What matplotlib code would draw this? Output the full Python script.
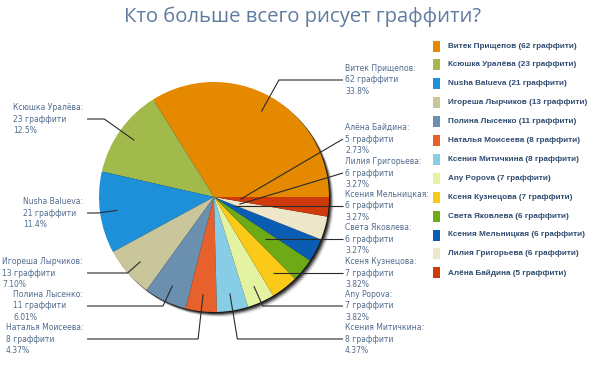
import numpy as np
import matplotlib.pyplot as plt
from matplotlib.patches import Circle, Rectangle

names = ['Витек Прищепов', 'Ксюшка Уралёва', 'Nusha Balueva', 'Игореша Лырчиков',
         'Полина Лысенко', 'Наталья Моисеева', 'Ксения Митичкина', 'Any Popova',
         'Ксеня Кузнецова', 'Света Яковлева', 'Ксения Мельницкая', 'Лилия Григорьева',
         'Алёна Байдина']
counts = [62, 23, 21, 13, 11, 8, 8, 7, 7, 6, 6, 6, 5]
colors = ['#E58A00', '#A1BA4B', '#1E8FD9', '#C9C69B', '#6B8FAE', '#E8602C',
          '#88CDE6', '#E4F3A2', '#FBC918', '#6DAA16', '#0B5DB4', '#EDE6C9',
          '#CF3A0B']

# label layout (pixel rows), side of the pie
label_side = ['R', 'L', 'L', 'L', 'L', 'L', 'R', 'R', 'R', 'R', 'R', 'R', 'R']
label_row = [80, 119, 213, 273, 306, 339, 339, 306, 273, 239, 206, 173, 139]

W, H = 604, 378
cx, cy, R = 214, H - 197, 115

total = sum(counts)


def pct_text(v):
    p = v / total * 100
    if p >= 10:
        return f"{np.floor(p * 10) / 10:.1f}%"
    return f"{np.floor(p * 100) / 100:.2f}%"


fig = plt.figure(figsize=(W / 100, H / 100), dpi=100)
ax = fig.add_axes([0, 0, 1, 1])

# soft shadow under the pie
for off, a in [(1.0, 0.6), (2.0, 0.5), (3.0, 0.35), (4.0, 0.18), (5.0, 0.08)]:
    ax.add_patch(Circle((cx + off, cy - off), R, color='black', alpha=a, lw=0, zorder=0))

wedges, _ = ax.pie(counts, colors=colors, startangle=0, counterclock=True,
                   center=(cx, cy), radius=R, wedgeprops=dict(lw=0))
for w in wedges:
    w.set_zorder(1)

ax.set_xlim(0, W)
ax.set_ylim(0, H)
ax.set_aspect('equal')
ax.axis('off')

txt_col = '#506B8C'
line_col = '#2a2a2a'
for w, name, v, side, row in zip(wedges, names, counts, label_side, label_row):
    th = np.radians((w.theta1 + w.theta2) / 2)
    ly = H - row
    dy = ly - cy
    x_end = 343 if side == 'R' else 87
    s = np.sin(th)
    rc = dy / s if abs(s) > 1e-6 else -1
    if rc <= 0:
        ax_, ay_ = cx + 0.23 * R * np.cos(th), cy + 0.23 * R * np.sin(th)
        xs, ys = [ax_, x_end], [ay_, ly]
    elif rc <= 0.85 * R:
        rr = max(rc, 0.2 * R)
        xs, ys = [cx + rr * np.cos(th), x_end], [ly, ly]
    else:
        ax_, ay_ = cx + 0.85 * R * np.cos(th), cy + 0.85 * R * np.sin(th)
        kx = cx + rc * np.cos(th)
        if (side == 'R' and kx < x_end) or (side == 'L' and kx > x_end):
            xs, ys = [ax_, kx, x_end], [ay_, ly, ly]
        else:
            xs, ys = [ax_, x_end], [ay_, ly]
    ax.plot(xs, ys, color=line_col, lw=0.8, zorder=3, solid_capstyle='butt')

    label = f"{name}:\n{v} граффити\n{pct_text(v)}"
    if side == 'R':
        ax.text(345, ly, label, ha='left', va='center', fontsize=5.5, color=txt_col,
                linespacing=1.4, family='DejaVu Sans')
    else:
        ax.text(83, ly, label, ha='right', va='center', multialignment='left',
                fontsize=5.5, color=txt_col, linespacing=1.4, family='DejaVu Sans')

# legend
for i, (name, v, c) in enumerate(zip(names, counts, colors)):
    ry = H - (46 + i * 18.9)
    ax.add_patch(Rectangle((433, ry - 5.5), 7, 11, color=c, lw=0))
    ax.text(448, ry, f"{name} ({v} граффити)", ha='left', va='center',
            fontsize=5.9, fontweight='bold', color='#2F4B70', family='Liberation Sans')

ax.text(302, H - 17, 'Кто больше всего рисует граффити?', ha='center', va='center',
        fontsize=14.6, color='#5F7B9F', family='Open Sans')

fig.savefig('out.png', dpi=100, facecolor='white')
